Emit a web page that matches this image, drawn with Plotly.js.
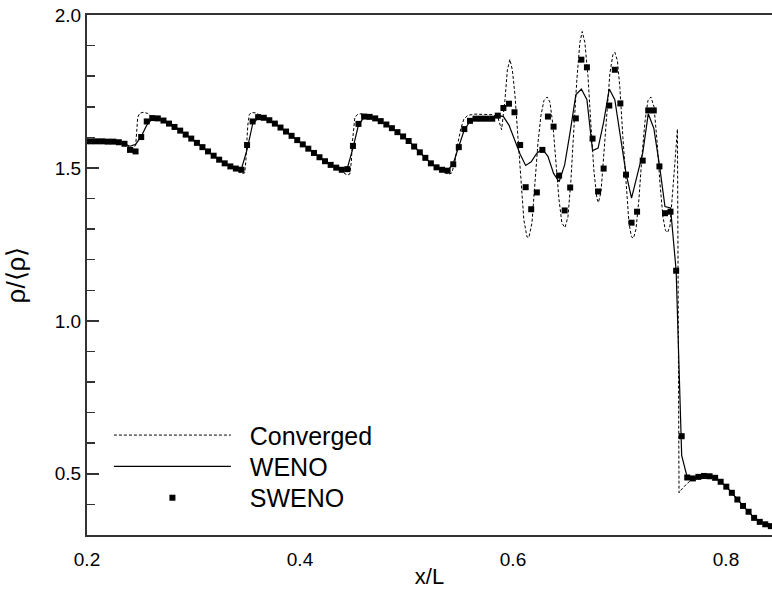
<!DOCTYPE html>
<html>
<head>
<meta charset="utf-8">
<script src="https://cdn.plot.ly/plotly-3.0.1.min.js"></script>
<style>html,body{margin:0;padding:0;background:#fff;}#chart{width:772px;height:594px;}</style>
</head>
<body>
<div id="chart"></div>
<script>
// ---- Data ----
var convergedX = [0.2000,0.2119,0.2213,0.2288,0.2345,0.2382,0.2411,0.2439,0.2457,0.2467,0.2476,0.2495,0.2533,0.2570,0.2598,0.2636,
  0.2665,0.2718,0.2770,0.2822,0.2875,0.2927,0.2980,0.3031,0.3084,0.3137,0.3188,0.3241,0.3294,0.3345,0.3398,
  0.3434,0.3463,0.3481,0.3491,0.3500,0.3510,0.3524,0.3547,0.3585,0.3622,0.3660,
  0.3712,0.3764,0.3817,0.3868,0.3921,0.3974,0.4026,0.4078,0.4131,0.4183,0.4235,0.4287,0.4340,0.4392,
  0.4421,0.4449,0.4468,0.4482,0.4491,0.4501,0.4515,0.4543,0.4581,0.4618,0.4654,
  0.4706,0.4758,0.4811,0.4863,0.4915,0.4968,0.5020,0.5073,0.5124,0.5177,0.5230,0.5281,0.5334,
  0.5370,0.5398,0.5426,0.5454,0.5482,0.5511,0.5539,0.5576,0.5642,0.5736,0.5811,0.5858,0.5893,
  0.5924,0.5947,0.5971,0.5994,0.6018,0.6046,0.6074,0.6102,0.6131,0.6149,0.6178,0.6206,0.6234,0.6262,0.6290,
  0.6321,0.6347,0.6375,0.6403,0.6431,0.6459,0.6488,0.6516,0.6544,0.6572,0.6600,0.6628,0.6650,0.6675,0.6704,
  0.6732,0.6760,0.6788,0.6802,0.6826,0.6854,0.6882,0.6910,0.6938,0.6957,0.6981,0.7004,0.7032,0.7061,0.7089,
  0.7112,0.7131,0.7155,0.7183,0.7211,0.7239,0.7267,0.7295,0.7324,0.7352,0.7380,0.7408,0.7432,0.7452,0.7474,
  0.7497,0.7521,0.7544,0.7559,0.7577,0.7605,0.7634,0.7662,0.7693,0.7741,0.7793,0.7845,0.7898,0.7950,0.8002,
  0.8054,0.8107,0.8159,0.8211,0.8264,0.8317,0.8368,0.8421,0.8432];
var convergedY = [1.588,1.588,1.587,1.585,1.580,1.572,1.566,1.565,1.575,1.620,1.665,1.679,1.682,1.678,1.670,1.664,
  1.662,1.655,1.645,1.634,1.622,1.609,1.596,1.582,1.568,1.554,1.540,1.527,1.515,1.505,1.496,
  1.486,1.482,1.484,1.520,1.580,1.640,1.675,1.681,1.680,1.673,1.666,
  1.656,1.645,1.632,1.619,1.605,1.591,1.577,1.563,1.549,1.535,1.522,1.510,1.500,1.490,
  1.481,1.477,1.480,1.520,1.580,1.630,1.665,1.676,1.677,1.671,1.667,
  1.662,1.653,1.642,1.630,1.617,1.603,1.588,1.570,1.551,1.533,1.515,1.500,1.490,
  1.482,1.479,1.484,1.520,1.580,1.630,1.660,1.672,1.676,1.676,1.674,1.665,1.625,
  1.720,1.820,1.855,1.820,1.740,1.600,1.450,1.330,1.275,1.272,1.320,1.450,1.580,1.670,1.720,
  1.732,1.715,1.640,1.520,1.400,1.320,1.305,1.340,1.460,1.630,1.790,1.910,1.946,1.910,1.800,
  1.640,1.490,1.400,1.387,1.420,1.550,1.700,1.810,1.870,1.878,1.850,1.760,1.600,1.440,1.320,
  1.275,1.270,1.300,1.400,1.540,1.650,1.720,1.732,1.700,1.590,1.450,1.340,1.295,1.289,1.310,
  1.400,1.520,1.627,0.438,0.447,0.458,0.468,0.476,0.484,0.490,0.493,0.492,0.487,0.474,0.458,
  0.438,0.416,0.395,0.376,0.356,0.343,0.335,0.329,0.328];

var gridX = [0.1985,0.2038,0.2090,0.2142,0.2195,0.2247,0.2299,0.2352,0.2404,0.2456,0.2509,0.2561,0.2613,0.2665,0.2718,0.2770,
  0.2822,0.2875,0.2927,0.2979,0.3032,0.3084,0.3136,0.3189,0.3241,0.3293,0.3346,0.3398,0.3450,0.3503,0.3555,0.3607,
  0.3660,0.3712,0.3764,0.3817,0.3869,0.3921,0.3974,0.4026,0.4078,0.4131,0.4183,0.4235,0.4288,0.4340,0.4392,0.4445,
  0.4497,0.4549,0.4602,0.4654,0.4706,0.4758,0.4811,0.4863,0.4915,0.4968,0.5020,0.5072,0.5125,0.5177,0.5229,0.5282,
  0.5334,0.5386,0.5439,0.5491,0.5543,0.5596,0.5648,0.5700,0.5753,0.5805,0.5857,0.5910,0.5962,0.6014,0.6067,0.6119,
  0.6171,0.6224,0.6276,0.6328,0.6381,0.6433,0.6485,0.6537,0.6590,0.6642,0.6694,0.6747,0.6799,0.6851,0.6904,0.6956,
  0.7008,0.7061,0.7113,0.7165,0.7218,0.7270,0.7322,0.7375,0.7427,0.7479,0.7532,0.7584,0.7636,0.7689,0.7741,0.7793,
  0.7846,0.7898,0.7950,0.8003,0.8055,0.8107,0.8160,0.8212,0.8264,0.8317,0.8369,0.8421];

var wenoY = [1.587,1.587,1.587,1.587,1.586,1.586,1.584,1.579,1.571,1.577,1.603,1.640,1.661,1.662,1.655,1.645,
  1.634,1.622,1.609,1.596,1.582,1.568,1.554,1.540,1.527,1.515,1.505,1.497,1.497,1.560,1.643,1.664,
  1.664,1.656,1.645,1.632,1.619,1.605,1.591,1.577,1.563,1.549,1.535,1.522,1.510,1.501,1.494,1.500,
  1.565,1.640,1.666,1.667,1.662,1.653,1.642,1.630,1.617,1.603,1.588,1.570,1.551,1.533,1.515,1.502,
  1.494,1.491,1.515,1.570,1.625,1.652,1.660,1.661,1.661,1.663,1.672,1.668,1.640,1.590,1.545,1.508,
  1.520,1.548,1.562,1.538,1.482,1.455,1.510,1.618,1.739,1.758,1.723,1.557,1.565,1.650,1.758,1.723,
  1.600,1.483,1.401,1.470,1.548,1.677,1.630,1.510,1.374,1.369,1.164,0.560,0.488,0.485,0.490,0.493,
  0.492,0.487,0.474,0.458,0.438,0.416,0.395,0.376,0.356,0.343,0.335,0.329];

var swenoY = [1.587,1.587,1.587,1.587,1.586,1.586,1.584,1.579,1.559,1.554,1.601,1.652,1.663,1.662,1.655,1.645,
  1.634,1.622,1.609,1.596,1.582,1.568,1.554,1.540,1.527,1.515,1.505,1.498,1.494,1.575,1.652,1.666,
  1.664,1.656,1.645,1.632,1.619,1.605,1.591,1.577,1.563,1.549,1.535,1.522,1.510,1.501,1.494,1.496,
  1.572,1.644,1.668,1.667,1.662,1.653,1.642,1.630,1.617,1.603,1.588,1.570,1.551,1.533,1.515,1.502,
  1.494,1.491,1.512,1.568,1.627,1.654,1.661,1.661,1.661,1.661,1.671,1.696,1.710,1.682,1.575,1.437,
  1.365,1.420,1.559,1.668,1.635,1.475,1.361,1.436,1.662,1.854,1.829,1.596,1.423,1.498,1.704,1.821,
  1.711,1.478,1.321,1.357,1.524,1.688,1.688,1.505,1.352,1.357,1.164,0.623,0.488,0.485,0.490,0.493,
  0.492,0.487,0.474,0.458,0.438,0.416,0.395,0.376,0.356,0.343,0.335,0.329];

var seriesNames = ['Converged', 'WENO', 'SWENO'];
var xTicks = [0.2, 0.4, 0.6, 0.8];
var yTicks = [0.5, 1.0, 1.5, 2.0];
var xRange = [0.2, 0.8432];
var yRange = [0.3, 2.0];

// ---- Chart ----
var FONT = '"Liberation Sans", Arial, Helvetica, sans-serif';
var AX = '#333333';
var GAP = '\u00A0\u00A0';

var traces = [
  {x: convergedX, y: convergedY, name: GAP + seriesNames[0], mode: 'lines', legend: 'legend',
   line: {color: '#000', width: 1, dash: '3px,2px'}},
  {x: gridX, y: wenoY, name: GAP + seriesNames[1], mode: 'lines', legend: 'legend2',
   line: {color: '#000', width: 1.2}},
  {x: gridX, y: swenoY, name: GAP + seriesNames[2], mode: 'markers', legend: 'legend3',
   marker: {symbol: 'square', size: 6, color: '#000'}}
];

function legendAt(yPaper) {
  return {x: 0.032, y: yPaper, xanchor: 'left', yanchor: 'middle', bgcolor: 'rgba(0,0,0,0)',
          font: {family: FONT, size: 25, color: '#000'}, itemwidth: 117};
}

var layout = {
  width: 772, height: 594,
  margin: {l: 87, r: 0, t: 15, b: 59, pad: 0},
  paper_bgcolor: '#fff', plot_bgcolor: '#fff',
  font: {family: FONT, color: '#000'},
  showlegend: true,
  legend: legendAt(0.1917),
  legend2: legendAt(0.1313),
  legend3: legendAt(0.0712),
  // main x axis: frame line + labels (labels pushed down by an invisible outside tick)
  xaxis: {
    range: xRange, tickvals: xTicks, tickformat: '.1f',
    showgrid: false, zeroline: false, showline: true, linewidth: 2, linecolor: AX, mirror: true,
    ticks: 'outside', ticklen: 6, tickcolor: 'rgba(0,0,0,0)',
    tickfont: {family: FONT, size: 19, color: '#000'},
    title: {text: 'x/L', font: {family: FONT, size: 22, color: '#000'}, standoff: 0}
  },
  // overlay x axis: the inside ticks only
  xaxis2: {
    overlaying: 'x', anchor: 'y', side: 'bottom', range: xRange, tickvals: xTicks,
    showgrid: false, zeroline: false, showline: false, showticklabels: false,
    ticks: 'inside', ticklen: 12, tickwidth: 1.5, tickcolor: AX,
    minor: {dtick: 0.05, tick0: 0.2, ticks: 'inside', ticklen: 8, tickwidth: 1.5, tickcolor: AX, showgrid: false}
  },
  yaxis: {
    range: yRange, tickvals: yTicks, tickformat: '.1f',
    showgrid: false, zeroline: false, showline: true, linewidth: 2, linecolor: AX, mirror: false,
    ticks: 'inside', ticklen: 12, tickwidth: 1.5, tickcolor: AX,
    tickfont: {family: FONT, size: 19, color: '#000'},
    minor: {dtick: 0.1, tick0: 0.3, ticks: 'inside', ticklen: 8, tickwidth: 1.5, tickcolor: AX, showgrid: false},
    title: {text: 'ρ/⟨ρ⟩', font: {family: FONT, size: 26, color: '#000'}, standoff: 22}
  }
};

Plotly.newPlot('chart', traces, layout, {displayModeBar: false, staticPlot: true});
</script>
</body>
</html>
